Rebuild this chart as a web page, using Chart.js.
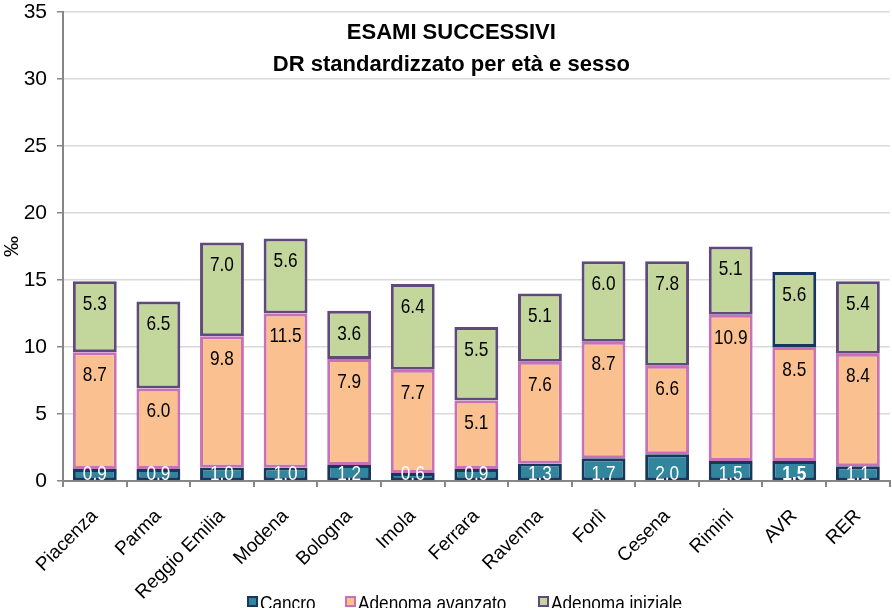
<!DOCTYPE html>
<html><head><meta charset="utf-8">
<script src="https://cdn.jsdelivr.net/npm/chart.js@4/dist/chart.umd.min.js"></script>
<style>
html,body{margin:0;padding:0;background:#fff;overflow:hidden;width:892px;height:608px;}
#wrap{position:absolute;left:0;top:0;width:892px;height:608px;}
#legend{position:absolute;left:0;top:0;width:892px;height:608px;pointer-events:none;font-family:"Liberation Sans",Arial,sans-serif;}
#legend .box{position:absolute;top:596px;width:11px;height:11px;box-sizing:border-box;border:2px solid #000;}
#legend .txt{position:absolute;top:592px;font-size:21px;line-height:21px;color:#000;white-space:nowrap;transform:scaleX(0.82);transform-origin:0 50%;}
</style></head><body>
<div id="wrap"><canvas id="c"></canvas></div>
<div id="legend"></div>
<script>
const categories = ['Piacenza','Parma','Reggio Emilia','Modena','Bologna','Imola','Ferrara','Ravenna','Forlì','Cesena','Rimini','AVR','RER'];
const cancro = [0.9,0.9,1.0,1.0,1.2,0.6,0.9,1.3,1.7,2.0,1.5,1.5,1.1];
const adenomaAvanzato = [8.7,6.0,9.8,11.5,7.9,7.7,5.1,7.6,8.7,6.6,10.9,8.5,8.4];
const adenomaIniziale = [5.3,6.5,7.0,5.6,3.6,6.4,5.5,5.1,6.0,7.8,5.1,5.6,5.4];
const yTicks = [0,5,10,15,20,25,30,35];
const seriesNames = ['Cancro','Adenoma avanzato','Adenoma iniziale'];
const titleLines = ['ESAMI SUCCESSIVI','DR standardizzato per età e sesso'];
const yAxisTitle = '‰';

const REG = '"Liberation Sans", Arial, sans-serif';
Chart.defaults.font.family = REG;
Chart.defaults.color = '#000';

const fills = ['#31859C', '#FAC090', '#C3D69B'];
const borders = ['#17375E', '#C872B5', '#604A7B'];
const inizialeBorders = categories.map(c => c === 'AVR' ? '#17375E' : borders[2]);

// HTML legend (real text)
const legendX = [247, 345, 538];
const legendEl = document.getElementById('legend');
seriesNames.forEach((name, i) => {
  const b = document.createElement('span');
  b.className = 'box';
  b.style.left = legendX[i] + 'px';
  b.style.background = fills[i];
  b.style.borderColor = borders[i];
  const t = document.createElement('span');
  t.className = 'txt';
  t.style.left = (legendX[i] + 13) + 'px';
  t.textContent = name;
  legendEl.appendChild(b);
  legendEl.appendChild(t);
});

const titlePlugin = {
  id: 'innerTitle',
  afterDraw(chart) {
    const {ctx, chartArea: a} = chart;
    ctx.save();
    ctx.font = 'bold 22px ' + REG;
    ctx.fillStyle = '#000';
    ctx.textAlign = 'center';
    ctx.textBaseline = 'middle';
    const cx = (a.left + a.right) / 2 - 25;
    ctx.fillText(titleLines[0], cx, a.top + 21);
    ctx.fillText(titleLines[1], cx, a.top + 53);
    ctx.restore();
  }
};

const labelPlugin = {
  id: 'barLabels',
  afterDatasetsDraw(chart) {
    const {ctx, chartArea: a} = chart;
    ctx.save();
    ctx.beginPath();
    ctx.rect(a.left, a.top, a.right - a.left, a.bottom - a.top);
    ctx.clip();
    ctx.textAlign = 'center';
    ctx.textBaseline = 'middle';
    chart.data.datasets.forEach((ds, di) => {
      const meta = chart.getDatasetMeta(di);
      meta.data.forEach((bar, i) => {
        const v = ds.data[i];
        const y = di === 0 ? bar.base - 6 : bar.y + 23;
        ctx.save();
        ctx.font = (di === 0 && categories[i] === 'AVR' ? 'bold ' : '') + '21px ' + REG;
        ctx.fillStyle = di === 0 ? '#fff' : '#000';
        ctx.translate(bar.x, y);
        ctx.scale(0.82, 1);
        ctx.fillText(v.toFixed(1), 0, 0);
        ctx.restore();
      });
    });
    ctx.restore();
  }
};

new Chart(document.getElementById('c'), {
  type: 'bar',
  data: {
    labels: categories,
    datasets: [
      { label: seriesNames[0], data: cancro, backgroundColor: fills[0], borderColor: borders[0], borderWidth: 3, borderSkipped: false },
      { label: seriesNames[1], data: adenomaAvanzato, backgroundColor: fills[1], borderColor: borders[1], borderWidth: 3, borderSkipped: false },
      { label: seriesNames[2], data: adenomaIniziale, backgroundColor: fills[2], borderColor: inizialeBorders, borderWidth: 3, borderSkipped: false }
    ]
  },
  options: {
    responsive: true,
    maintainAspectRatio: false,
    animation: false,
    devicePixelRatio: 1,
    layout: { padding: 0 },
    datasets: { bar: { categoryPercentage: 1, barPercentage: 0.69 } },
    plugins: {
      title: { display: false },
      tooltip: { enabled: false },
      legend: { display: false }
    },
    scales: {
      x: {
        stacked: true,
        ticks: { font: { size: 19 }, color: '#000', maxRotation: 45, minRotation: 45, autoSkip: false, padding: 18 },
        grid: { display: true, drawOnChartArea: false, offset: true, tickColor: '#868686', tickLength: 6, lineWidth: 2 },
        border: { color: '#868686', width: 2 },
        afterFit: (s) => { s.height = 127; }
      },
      y: {
        stacked: true, min: 0, max: 35,
        afterBuildTicks: (s) => { s.ticks = yTicks.map(v => ({ value: v })); },
        ticks: { font: { size: 21 }, color: '#000', padding: 10 },
        grid: { color: '#d9d9d9', lineWidth: 1.5, tickColor: '#868686', tickLength: 6 },
        border: { color: '#868686', width: 2 },
        title: { display: true, text: yAxisTitle, font: { size: 21 }, color: '#000', padding: 0 },
        afterFit: (s) => { s.width = 63; s.paddingTop = 12; }
      }
    }
  },
  plugins: [titlePlugin, labelPlugin]
});
</script>
</body></html>
